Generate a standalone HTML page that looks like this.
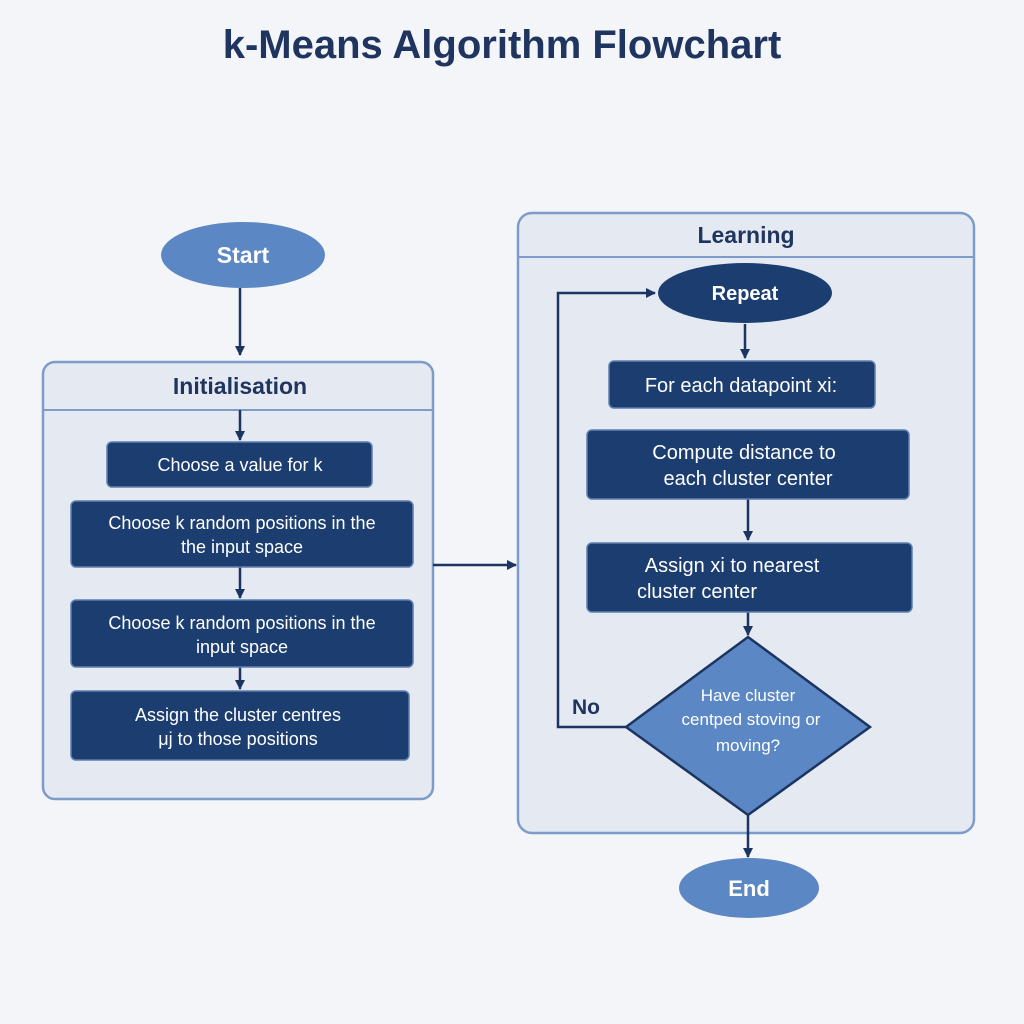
<!DOCTYPE html>
<html><head><meta charset="utf-8"><style>
html,body{margin:0;padding:0;background:#f3f5f8;}
svg{display:block;font-family:"Liberation Sans",sans-serif;}
</style></head><body>
<svg width="1024" height="1024" viewBox="0 0 1024 1024">
<defs><marker id="a" markerWidth="10" markerHeight="10" refX="9" refY="5" orient="auto" markerUnits="userSpaceOnUse"><path d="M0,0 L10,5 L0,10 z" fill="#1b3560"/></marker></defs>
<rect width="1024" height="1024" fill="#f3f5f8"/>
<text x="502" y="58" text-anchor="middle" font-size="40" font-weight="bold" fill="#1f3560">k-Means Algorithm Flowchart</text>
<ellipse cx="243" cy="255" rx="82" ry="33" fill="#5b87c5"/>
<text x="243" y="263" text-anchor="middle" font-size="23" font-weight="bold" fill="#fff">Start</text>
<rect x="43" y="362" width="390" height="437" rx="12" fill="#e4e9f2" stroke="#7d9cc9" stroke-width="2.5"/>
<line x1="43" y1="410" x2="433" y2="410" stroke="#7d9cc9" stroke-width="2"/>
<text x="240" y="394" text-anchor="middle" font-size="23" font-weight="bold" fill="#1f3560">Initialisation</text>
<rect x="518" y="213" width="456" height="620" rx="14" fill="#e4e9f2" stroke="#7d9cc9" stroke-width="2.5"/>
<line x1="518" y1="257" x2="974" y2="257" stroke="#7d9cc9" stroke-width="2"/>
<text x="746" y="243" text-anchor="middle" font-size="23" font-weight="bold" fill="#1f3560">Learning</text>
<g stroke="#1b3560" stroke-width="2.5">
<line x1="240" y1="288" x2="240" y2="355" marker-end="url(#a)"/>
<line x1="240" y1="410" x2="240" y2="440" marker-end="url(#a)"/>
<line x1="240" y1="567" x2="240" y2="598" marker-end="url(#a)"/>
<line x1="240" y1="667" x2="240" y2="689" marker-end="url(#a)"/>
<line x1="433" y1="565" x2="516" y2="565" marker-end="url(#a)"/>
<line x1="745" y1="324" x2="745" y2="358" marker-end="url(#a)"/>
<line x1="748" y1="499" x2="748" y2="540" marker-end="url(#a)"/>
<line x1="748" y1="612" x2="748" y2="635" marker-end="url(#a)"/>
<line x1="748" y1="815" x2="748" y2="857" marker-end="url(#a)"/>
</g>
<g fill="#1b3d70" stroke="#5e7fae" stroke-width="1.5">
<rect x="107" y="442" width="265" height="45" rx="5"/>
<rect x="71" y="501" width="342" height="66" rx="5"/>
<rect x="71" y="600" width="342" height="67" rx="5"/>
<rect x="71" y="691" width="338" height="69" rx="5"/>
</g>
<g fill="#fff" font-size="18" text-anchor="middle">
<text x="240" y="471">Choose a value for k</text>
<text x="242" y="529">Choose k random positions in the</text>
<text x="242" y="553">the input space</text>
<text x="242" y="629">Choose k random positions in the</text>
<text x="242" y="653">input space</text>
<text x="238" y="721">Assign the cluster centres</text>
<text x="238" y="745">μj to those positions</text>
</g>
<ellipse cx="745" cy="293" rx="87" ry="30" fill="#1b3d70"/>
<text x="745" y="300" text-anchor="middle" font-size="20" font-weight="bold" fill="#fff">Repeat</text>
<polyline points="626,727 558,727 558,293 655,293" fill="none" stroke="#1b3560" stroke-width="2.5" marker-end="url(#a)"/>
<g fill="#1b3d70" stroke="#5e7fae" stroke-width="1.5">
<rect x="609" y="361" width="266" height="47" rx="5"/>
<rect x="587" y="430" width="322" height="69" rx="5"/>
<rect x="587" y="543" width="325" height="69" rx="5"/>
</g>
<g fill="#fff" font-size="20" text-anchor="middle">
<text x="741" y="392">For each datapoint xi:</text>
<text x="744" y="459">Compute distance to</text>
<text x="748" y="485">each cluster center</text>
<text x="732" y="572">Assign xi to nearest</text>
<text x="697" y="598">cluster center</text>
</g>
<polygon points="748,637 870,727 748,815 626,727" fill="#5b87c5" stroke="#1b3560" stroke-width="2.5"/>
<g fill="#fff" font-size="17" text-anchor="middle">
<text x="748" y="701">Have cluster</text>
<text x="751" y="725">centped stoving or</text>
<text x="748" y="751">moving?</text>
</g>
<text x="586" y="714" text-anchor="middle" font-size="21" font-weight="bold" fill="#1f3560">No</text>
<ellipse cx="749" cy="888" rx="70" ry="30" fill="#5b87c5"/>
<text x="749" y="896" text-anchor="middle" font-size="22" font-weight="bold" fill="#fff">End</text>
</svg>
</body></html>
